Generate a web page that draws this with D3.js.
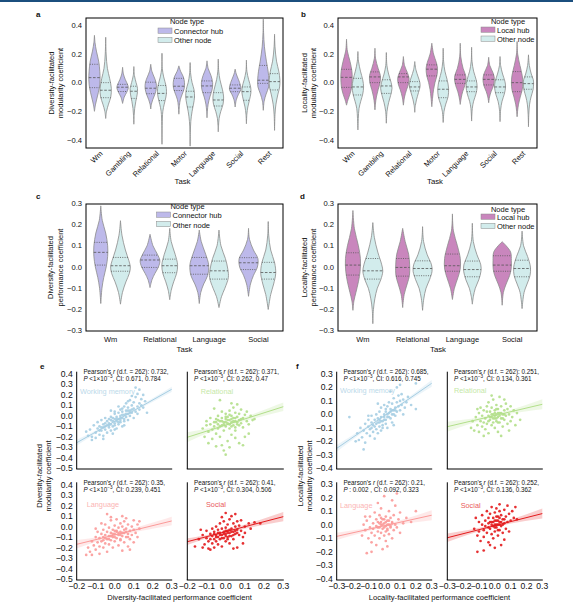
<!DOCTYPE html>
<html><head><meta charset="utf-8">
<script src="https://cdn.jsdelivr.net/npm/d3@7"></script>
<style>body{margin:0;background:#fff}svg{display:block}text{font-family:"Liberation Sans",Arial,sans-serif;fill:#111}</style>
</head><body><svg id="c" width="573" height="604"></svg>
<script>
// ---------------- DATA ----------------
const tasksAB = ["Wm","Gambling","Relational","Motor","Language","Social","Rest"];
const tasksCD = ["Wm","Relational","Language","Social"];
const ticksAB = [-0.4,-0.2,0,0.2,0.4];
const ticksCD = [-0.3,-0.2,-0.1,0,0.1,0.2,0.3];
const ticksEy = [-0.5,-0.4,-0.3,-0.2,-0.1,0,0.1,0.2,0.3,0.4];
const ticksEx = [-0.2,-0.1,0,0.1,0.2,0.3];
const ticksFy = [-0.4,-0.3,-0.2,-0.1,0,0.1,0.2,0.3];
const ticksFx = [-0.3,-0.2,-0.1,0,0.1,0.2,0.3];

// violin profiles: [value, relative half-width]; quartiles: [q3, median, q1]
const aHubProf = [
 [[0.33,0],[0.28,0.1],[0.22,0.35],[0.15,0.75],[0.08,0.95],[0.02,1],[-0.04,0.85],[-0.1,0.5],[-0.15,0.2],[-0.2,0]],
 [[0.107,0],[0.06,0.15],[0.02,0.5],[-0.02,0.95],[-0.04,1],[-0.07,0.7],[-0.1,0.3],[-0.145,0]],
 [[0.128,0],[0.08,0.2],[0.04,0.6],[0.0,0.95],[-0.04,1],[-0.08,0.75],[-0.12,0.35],[-0.15,0.12],[-0.184,0]],
 [[0.117,0],[0.08,0.3],[0.04,0.8],[0.0,1],[-0.04,0.95],[-0.08,0.6],[-0.12,0.25],[-0.16,0.1],[-0.22,0]],
 [[0.152,0],[0.1,0.2],[0.05,0.7],[0.0,1],[-0.05,0.9],[-0.1,0.5],[-0.15,0.2],[-0.2,0.06],[-0.245,0]],
 [[0.094,0],[0.06,0.2],[0.02,0.6],[-0.02,0.95],[-0.05,1],[-0.08,0.6],[-0.12,0.2],[-0.17,0]],
 [[0.443,0],[0.35,0.05],[0.25,0.2],[0.15,0.55],[0.08,0.85],[0.02,1],[-0.03,0.95],[-0.08,0.5],[-0.13,0.15],[-0.193,0]]];
const aHubQ = [[0.128,0.035,-0.035],[-0.012,-0.032,-0.062],[0.003,-0.039,-0.077],[0.03,-0.025,-0.055],[0.012,-0.023,-0.07],[-0.016,-0.039,-0.063],[0.12,0.017,-0.005]];
const aOthProf = [
 [[0.317,0],[0.2,0.08],[0.1,0.3],[0.03,0.7],[-0.04,1],[-0.1,0.9],[-0.15,0.5],[-0.2,0.15],[-0.25,0]],
 [[0.112,0],[0.05,0.1],[0.0,0.4],[-0.04,0.65],[-0.08,0.6],[-0.13,0.35],[-0.18,0.15],[-0.23,0.05],[-0.29,0]],
 [[0.205,0],[0.1,0.05],[0.04,0.3],[-0.02,0.7],[-0.06,0.8],[-0.1,0.7],[-0.15,0.4],[-0.2,0.15],[-0.3,0.04],[-0.43,0]],
 [[0.14,0],[0.06,0.1],[0.0,0.35],[-0.05,0.7],[-0.1,0.78],[-0.15,0.6],[-0.2,0.35],[-0.27,0.12],[-0.35,0.04],[-0.443,0]],
 [[0.164,0],[0.08,0.08],[0.02,0.3],[-0.05,0.75],[-0.1,0.95],[-0.15,0.85],[-0.2,0.45],[-0.25,0.15],[-0.3,0.05],[-0.343,0]],
 [[0.157,0],[0.08,0.08],[0.02,0.4],[-0.03,0.75],[-0.07,0.8],[-0.12,0.55],[-0.17,0.25],[-0.22,0.08],[-0.287,0]],
 [[0.338,0],[0.25,0.08],[0.15,0.35],[0.08,0.75],[0.02,0.95],[-0.03,0.9],[-0.08,0.6],[-0.15,0.25],[-0.22,0.08],[-0.333,0]]];
const aOthQ = [[0.0,-0.053,-0.105],[-0.025,-0.06,-0.11],[-0.02,-0.075,-0.125],[-0.06,-0.1,-0.17],[-0.07,-0.121,-0.163],[-0.03,-0.063,-0.123],[0.063,0.007,-0.051]];

const bHubProf = [
 [[0.303,0],[0.22,0.15],[0.15,0.6],[0.08,0.95],[0.03,1],[-0.03,0.9],[-0.08,0.6],[-0.12,0.25],[-0.157,0]],
 [[0.24,0],[0.17,0.1],[0.1,0.55],[0.05,0.95],[0.0,0.9],[-0.05,0.55],[-0.1,0.25],[-0.15,0.08],[-0.19,0]],
 [[0.182,0],[0.12,0.2],[0.07,0.7],[0.03,1],[-0.01,0.9],[-0.05,0.55],[-0.1,0.2],[-0.157,0]],
 [[0.275,0],[0.2,0.3],[0.14,0.8],[0.1,1],[0.05,0.9],[0.0,0.55],[-0.05,0.3],[-0.1,0.15],[-0.168,0]],
 [[0.275,0],[0.18,0.1],[0.1,0.5],[0.05,0.95],[0.02,1],[-0.02,0.8],[-0.06,0.45],[-0.1,0.2],[-0.152,0]],
 [[0.177,0],[0.12,0.2],[0.07,0.75],[0.03,1],[-0.02,0.85],[-0.06,0.45],[-0.1,0.15],[-0.14,0]],
 [[0.287,0],[0.2,0.1],[0.12,0.5],[0.05,0.9],[0.0,1],[-0.05,0.9],[-0.1,0.55],[-0.15,0.25],[-0.2,0.08],[-0.238,0]]];
const bHubQ = [[0.093,0.037,-0.033],[0.075,0.04,0.0],[0.063,0.04,0.0],[0.124,0.094,0.047],[0.054,0.023,-0.005],[0.054,0.023,-0.016],[0.077,0.0,-0.063]];
const bOthProf = [
 [[0.217,0],[0.15,0.1],[0.08,0.45],[0.02,0.85],[-0.03,1],[-0.08,0.85],[-0.13,0.5],[-0.18,0.2],[-0.25,0.07],[-0.33,0]],
 [[0.21,0],[0.12,0.1],[0.06,0.4],[0.0,0.85],[-0.04,1],[-0.09,0.75],[-0.14,0.4],[-0.2,0.12],[-0.283,0]],
 [[0.147,0],[0.09,0.2],[0.04,0.6],[0.0,0.9],[-0.03,0.92],[-0.07,0.65],[-0.12,0.3],[-0.16,0.1],[-0.207,0]],
 [[0.24,0],[0.15,0.07],[0.08,0.3],[0.02,0.7],[-0.04,0.95],[-0.1,0.85],[-0.15,0.45],[-0.2,0.15],[-0.278,0]],
 [[0.247,0],[0.15,0.07],[0.08,0.35],[0.02,0.8],[-0.03,0.97],[-0.08,0.75],[-0.13,0.35],[-0.18,0.12],[-0.268,0]],
 [[0.182,0],[0.12,0.1],[0.06,0.45],[0.01,0.85],[-0.03,0.97],[-0.08,0.75],[-0.13,0.35],[-0.19,0.1],[-0.272,0]],
 [[0.194,0],[0.12,0.15],[0.06,0.5],[0.02,0.85],[-0.01,0.9],[-0.05,0.8],[-0.1,0.45],[-0.15,0.2],[-0.22,0.06],[-0.308,0]]];
const bOthQ = [[0.03,-0.03,-0.086],[0.02,-0.023,-0.075],[0.007,-0.03,-0.058],[0.012,-0.046,-0.105],[0.012,-0.03,-0.063],[0.02,-0.03,-0.07],[0.04,-0.007,-0.046]];

const cHubProf = [
 [[0.288,0],[0.22,0.15],[0.16,0.5],[0.1,0.7],[0.05,0.7],[0.0,0.55],[-0.05,0.3],[-0.1,0.12],[-0.172,0]],
 [[0.154,0],[0.1,0.3],[0.06,0.75],[0.03,1],[0.0,0.85],[-0.03,0.5],[-0.06,0.2],[-0.097,0]],
 [[0.174,0],[0.12,0.2],[0.06,0.65],[0.01,0.95],[-0.04,0.85],[-0.08,0.45],[-0.12,0.15],[-0.172,0]],
 [[0.182,0],[0.13,0.1],[0.08,0.5],[0.04,0.95],[0.0,0.9],[-0.04,0.5],[-0.08,0.2],[-0.138,0]]];
const cHubQ = [[0.116,0.069,0.009],[0.056,0.033,-0.002],[0.045,0.006,-0.034],[0.044,0.02,-0.012]];
const cOthProf = [
 [[0.218,0],[0.15,0.15],[0.08,0.5],[0.03,0.85],[0.0,1],[-0.03,0.9],[-0.07,0.55],[-0.12,0.2],[-0.175,0]],
 [[0.182,0],[0.12,0.15],[0.06,0.55],[0.01,0.8],[-0.03,0.7],[-0.07,0.4],[-0.11,0.15],[-0.154,0]],
 [[0.174,0],[0.1,0.2],[0.04,0.65],[-0.01,0.9],[-0.05,0.95],[-0.1,0.6],[-0.14,0.25],[-0.191,0]],
 [[0.214,0],[0.15,0.05],[0.08,0.25],[0.02,0.65],[-0.03,0.76],[-0.08,0.55],[-0.13,0.25],[-0.2,0]]];
const cOthQ = [[0.045,0.006,-0.02],[0.037,0.006,-0.027],[0.028,-0.018,-0.057],[0.022,-0.026,-0.057]];

const dHubProf = [
 [[0.266,0],[0.18,0.15],[0.1,0.55],[0.04,0.75],[-0.02,0.72],[-0.07,0.55],[-0.12,0.3],[-0.16,0.1],[-0.204,0]],
 [[0.182,0],[0.12,0.25],[0.06,0.6],[0.01,0.7],[-0.04,0.68],[-0.08,0.45],[-0.13,0.15],[-0.191,0]],
 [[0.25,0],[0.17,0.1],[0.1,0.5],[0.04,0.79],[-0.01,0.78],[-0.05,0.55],[-0.1,0.2],[-0.153,0]],
 [[0.119,0],[0.1,0.4],[0.07,0.85],[0.03,0.92],[-0.01,0.9],[-0.04,0.75],[-0.08,0.4],[-0.12,0.12],[-0.18,0]]];
const dHubQ = [[0.067,0.009,-0.038],[0.04,-0.002,-0.043],[0.061,0.006,-0.02],[0.053,0.009,-0.02]];
const dOthProf = [
 [[0.209,0],[0.14,0.15],[0.07,0.5],[0.01,0.9],[-0.02,1],[-0.06,0.8],[-0.1,0.45],[-0.15,0.2],[-0.2,0.06],[-0.267,0]],
 [[0.19,0],[0.12,0.1],[0.06,0.45],[0.01,0.9],[-0.02,0.95],[-0.06,0.7],[-0.1,0.35],[-0.15,0.12],[-0.204,0]],
 [[0.206,0],[0.12,0.1],[0.06,0.45],[0.01,0.85],[-0.02,0.87],[-0.06,0.65],[-0.1,0.3],[-0.14,0.1],[-0.175,0]],
 [[0.169,0],[0.1,0.15],[0.05,0.55],[0.0,0.84],[-0.04,0.8],[-0.08,0.5],[-0.12,0.2],[-0.196,0]]];
const dOthQ = [[0.04,-0.018,-0.057],[0.029,-0.007,-0.041],[0.028,-0.012,-0.046],[0.032,-0.007,-0.046]];

// scatter points [x, y]
const eWm = [[-0.14,-0.19],[-0.13,-0.13],[-0.12,-0.2],[-0.11,-0.09],[-0.1,-0.16],[-0.1,-0.21],[-0.09,-0.12],[-0.09,-0.06],[-0.08,-0.18],[-0.08,-0.1],[-0.07,-0.14],[-0.07,-0.04],[-0.06,-0.11],[-0.06,-0.19],[-0.05,-0.07],[-0.05,-0.13],[-0.05,-0.02],[-0.04,-0.09],[-0.04,-0.16],[-0.04,-0.05],[-0.03,-0.11],[-0.03,-0.03],[-0.03,-0.07],[-0.02,-0.14],[-0.02,-0.08],[-0.02,-0.01],[-0.01,-0.05],[-0.01,-0.1],[-0.01,-0.17],[0.0,-0.03],[0.0,-0.07],[0.0,0.02],[0.01,-0.12],[0.01,-0.05],[0.01,-0.01],[0.02,-0.08],[0.02,0.03],[0.02,-0.03],[0.03,-0.06],[0.03,0.0],[0.03,0.06],[0.04,-0.02],[0.04,-0.1],[0.04,0.04],[0.05,0.01],[0.05,-0.05],[0.05,0.09],[0.06,-0.01],[0.06,0.05],[0.06,0.12],[0.07,0.02],[0.07,-0.04],[0.07,0.08],[0.08,0.0],[0.08,0.05],[0.08,0.15],[0.09,0.03],[0.09,0.1],[0.1,0.07],[0.1,-0.02],[0.1,0.13],[0.11,0.04],[0.11,0.18],[0.12,0.09],[0.12,0.02],[0.13,0.12],[0.13,0.06],[0.14,0.1],[0.14,0.16],[0.15,0.08],[0.16,0.14],[0.17,0.03],[0.11,0.27],[0.13,0.25],[0.12,0.21],[0.09,0.19],[-0.15,-0.15],[-0.12,-0.23],[-0.06,-0.22],[0.02,0.09],[-0.02,0.05],[0.0,-0.13],[0.05,-0.09],[0.07,0.14],[0.15,0.2],[-0.06,-0.08],[-0.05,-0.1],[-0.03,-0.09],[-0.02,-0.04],[-0.01,-0.02],[0.0,-0.09],[0.01,-0.03],[0.02,-0.06],[0.03,-0.02],[0.04,0.01],[0.05,-0.03],[0.06,0.02],[0.07,0.05],[0.08,0.03],[0.09,0.06],[-0.07,-0.11],[-0.08,-0.14],[0.03,-0.04],[0.0,0.04],[0.04,0.07]];
const eRel = [[-0.12,-0.12],[-0.11,-0.2],[-0.1,-0.05],[-0.09,-0.15],[-0.09,-0.26],[-0.08,-0.08],[-0.08,-0.02],[-0.07,-0.13],[-0.07,-0.22],[-0.06,-0.06],[-0.06,-0.1],[-0.05,-0.03],[-0.05,-0.17],[-0.05,-0.29],[-0.04,-0.08],[-0.04,0.0],[-0.04,-0.12],[-0.03,-0.05],[-0.03,-0.2],[-0.02,-0.09],[-0.02,-0.02],[-0.02,0.04],[-0.01,-0.06],[-0.01,-0.14],[-0.01,-0.33],[0.0,-0.03],[0.0,-0.1],[0.0,0.02],[0.01,-0.07],[0.01,-0.01],[0.01,-0.24],[0.02,-0.04],[0.02,0.05],[0.02,-0.12],[0.03,-0.06],[0.03,0.0],[0.03,-0.18],[0.04,-0.02],[0.04,-0.09],[0.04,0.08],[0.05,-0.05],[0.05,0.03],[0.05,-0.14],[0.06,-0.01],[0.06,-0.08],[0.06,0.11],[0.07,-0.04],[0.07,0.02],[0.07,-0.26],[0.08,-0.07],[0.08,0.06],[0.09,-0.02],[0.09,-0.11],[0.1,0.01],[0.1,-0.2],[0.11,-0.05],[0.11,0.04],[0.12,-0.08],[0.13,0.0],[0.14,-0.04],[0.15,-0.03],[-0.03,0.15],[0.03,0.12],[-0.06,0.07],[0.0,-0.37],[0.09,-0.28],[-0.02,-0.28],[0.12,-0.17],[-0.1,-0.09],[0.05,-0.21],[0.02,-0.3],[-0.02,-0.05],[0.0,-0.06],[0.02,-0.08],[0.03,-0.03],[0.04,-0.05],[0.05,-0.02],[0.01,-0.04],[-0.01,-0.08],[0.06,-0.06],[0.07,-0.09],[-0.03,-0.1],[0.0,-0.01],[0.03,-0.1],[0.08,-0.03],[-0.05,-0.06],[0.05,-0.11],[0.02,0.01],[-0.04,-0.04]];
const eLang = [[-0.15,-0.27],[-0.14,-0.2],[-0.13,-0.24],[-0.12,-0.14],[-0.12,-0.27],[-0.11,-0.18],[-0.1,-0.1],[-0.1,-0.22],[-0.09,-0.15],[-0.09,-0.05],[-0.08,-0.19],[-0.08,-0.11],[-0.08,-0.26],[-0.07,-0.07],[-0.07,-0.14],[-0.06,-0.2],[-0.06,-0.03],[-0.06,-0.1],[-0.05,-0.16],[-0.05,-0.08],[-0.05,0.02],[-0.04,-0.12],[-0.04,-0.05],[-0.04,-0.24],[-0.03,-0.09],[-0.03,-0.01],[-0.03,-0.17],[-0.02,-0.06],[-0.02,0.06],[-0.02,-0.13],[-0.01,-0.1],[-0.01,-0.03],[-0.01,-0.2],[0.0,-0.07],[0.0,0.01],[0.0,-0.14],[0.01,-0.04],[0.01,-0.11],[0.01,0.07],[0.02,-0.08],[0.02,-0.01],[0.02,-0.18],[0.03,-0.05],[0.03,0.03],[0.03,-0.12],[0.04,-0.09],[0.04,0.0],[0.04,-0.23],[0.05,-0.06],[0.05,0.05],[0.05,-0.15],[0.06,-0.02],[0.06,-0.1],[0.06,0.08],[0.07,-0.07],[0.07,0.02],[0.07,-0.19],[0.08,-0.04],[0.08,-0.12],[0.09,0.0],[0.09,-0.08],[0.1,-0.03],[0.1,0.06],[0.1,-0.15],[0.11,-0.06],[0.12,0.02],[0.12,-0.1],[0.13,-0.02],[0.13,0.05],[-0.04,0.12],[-0.02,0.09],[0.04,0.1],[-0.07,0.03],[0.08,-0.22],[-0.1,-0.02],[-0.02,-0.09],[0.0,-0.1],[0.02,-0.06],[0.03,-0.08],[-0.03,-0.12],[0.05,-0.03],[0.01,-0.05],[-0.05,-0.11],[0.04,-0.06],[0.06,-0.05],[-0.01,-0.07],[0.03,-0.13],[0.07,-0.1],[-0.06,-0.13],[0.0,-0.04]];
const eSoc = [[-0.16,-0.19],[-0.14,-0.12],[-0.12,-0.08],[-0.11,-0.17],[-0.1,-0.11],[-0.1,-0.04],[-0.09,-0.14],[-0.09,-0.21],[-0.08,-0.07],[-0.08,-0.12],[-0.07,-0.02],[-0.07,-0.16],[-0.07,-0.09],[-0.06,-0.05],[-0.06,-0.12],[-0.06,-0.2],[-0.05,-0.08],[-0.05,0.0],[-0.05,-0.14],[-0.04,-0.03],[-0.04,-0.1],[-0.04,-0.17],[-0.03,-0.06],[-0.03,0.03],[-0.03,-0.12],[-0.02,-0.08],[-0.02,-0.02],[-0.02,-0.19],[-0.01,-0.05],[-0.01,-0.11],[-0.01,0.05],[0.0,-0.07],[0.0,-0.01],[0.0,-0.14],[0.01,-0.04],[0.01,0.02],[0.01,-0.1],[0.02,-0.06],[0.02,0.07],[0.02,-0.16],[0.03,-0.02],[0.03,-0.09],[0.03,0.1],[0.04,-0.05],[0.04,0.03],[0.04,-0.12],[0.05,0.0],[0.05,-0.07],[0.05,0.12],[0.06,-0.03],[0.06,0.05],[0.06,-0.2],[0.07,-0.08],[0.07,0.01],[0.08,-0.04],[0.08,0.06],[0.09,-0.1],[0.1,0.0],[0.1,-0.06],[0.12,0.03],[0.13,-0.02],[0.15,0.04],[0.18,0.03],[-0.12,-0.2],[-0.13,-0.03],[0.0,0.13],[0.04,-0.21],[-0.08,-0.22],[0.09,-0.16],[-0.02,0.09],[-0.03,-0.08],[-0.01,-0.07],[0.0,-0.04],[0.01,-0.06],[0.02,-0.09],[0.03,-0.05],[-0.02,-0.11],[-0.04,-0.06],[0.04,-0.08],[0.05,-0.04],[-0.05,-0.1],[0.0,-0.09],[0.02,-0.03],[-0.06,-0.07],[0.06,-0.06],[0.01,-0.12]];
const fWm = [[-0.22,-0.02],[-0.18,-0.2],[-0.17,-0.14],[-0.16,-0.19],[-0.15,-0.1],[-0.14,-0.17],[-0.13,-0.26],[-0.13,-0.12],[-0.12,-0.07],[-0.12,-0.21],[-0.11,-0.14],[-0.1,-0.09],[-0.1,-0.04],[-0.09,-0.16],[-0.09,-0.11],[-0.08,-0.06],[-0.08,-0.01],[-0.07,-0.13],[-0.07,-0.08],[-0.06,-0.04],[-0.06,-0.18],[-0.05,-0.07],[-0.05,0.0],[-0.05,-0.11],[-0.04,-0.03],[-0.04,-0.14],[-0.03,-0.06],[-0.03,0.02],[-0.03,-0.09],[-0.02,-0.02],[-0.02,-0.12],[-0.02,0.05],[-0.01,-0.05],[-0.01,-0.08],[0.0,0.0],[0.0,-0.04],[0.0,0.07],[0.01,-0.07],[0.01,0.02],[0.02,-0.02],[0.02,0.06],[0.02,-0.1],[0.03,0.01],[0.03,0.09],[0.04,-0.03],[0.04,0.04],[0.05,0.0],[0.05,0.08],[0.05,-0.06],[0.06,0.03],[0.06,0.12],[0.07,0.05],[0.07,-0.01],[0.08,0.09],[0.08,0.02],[0.09,0.06],[0.09,0.14],[0.1,0.03],[0.1,0.1],[0.11,0.07],[0.11,0.15],[0.12,0.0],[0.12,0.11],[0.13,0.05],[0.14,0.09],[0.15,0.13],[0.17,0.07],[0.2,0.23],[0.2,0.04],[0.08,0.2],[0.04,0.17],[0.1,0.22],[-0.04,0.08],[-0.1,-0.01],[0.06,-0.08],[-0.04,-0.06],[-0.02,-0.05],[0.0,-0.02],[0.01,-0.04],[0.02,0.0],[0.03,-0.02],[0.04,0.02],[0.05,0.03],[0.06,0.0],[-0.06,-0.09],[-0.03,-0.04],[0.07,0.03],[-0.08,-0.1],[0.01,0.04],[-0.01,-0.1]];
const fRel = [[-0.15,-0.1],[-0.14,-0.05],[-0.13,-0.12],[-0.12,-0.02],[-0.11,-0.08],[-0.1,0.01],[-0.1,-0.13],[-0.09,-0.05],[-0.09,0.05],[-0.08,-0.09],[-0.08,-0.01],[-0.07,-0.06],[-0.07,0.03],[-0.06,-0.11],[-0.06,-0.03],[-0.05,0.06],[-0.05,-0.07],[-0.04,-0.01],[-0.04,0.09],[-0.04,-0.14],[-0.03,-0.04],[-0.03,0.02],[-0.02,-0.08],[-0.02,0.05],[-0.02,-0.02],[-0.01,0.0],[-0.01,-0.06],[-0.01,0.11],[0.0,-0.03],[0.0,0.03],[0.0,-0.1],[0.01,0.07],[0.01,-0.05],[0.01,0.0],[0.02,-0.02],[0.02,0.04],[0.02,-0.13],[0.03,-0.06],[0.03,0.01],[0.03,0.13],[0.04,-0.03],[0.04,0.06],[0.05,0.0],[0.05,-0.09],[0.06,0.03],[0.06,-0.04],[0.07,0.08],[0.07,-0.01],[0.08,-0.07],[0.08,0.04],[0.09,0.0],[0.1,-0.05],[0.1,0.06],[0.11,-0.02],[0.12,0.03],[0.13,-0.08],[0.14,0.01],[0.16,-0.04],[-0.02,0.14],[0.06,0.11],[-0.07,-0.16],[0.04,-0.16],[0.09,-0.12],[-0.11,0.04],[-0.03,-0.02],[-0.01,-0.03],[0.0,-0.01],[0.01,-0.03],[0.02,0.01],[0.03,-0.01],[-0.02,0.0],[0.04,0.01],[0.0,0.01],[-0.04,-0.05],[0.05,-0.03],[0.02,-0.06],[-0.05,0.02],[0.06,0.0],[0.01,0.04]];
const fLang = [[-0.14,-0.08],[-0.13,0.0],[-0.12,-0.04],[-0.11,-0.21],[-0.11,0.03],[-0.1,-0.1],[-0.09,-0.02],[-0.09,0.06],[-0.08,-0.06],[-0.08,-0.13],[-0.07,0.01],[-0.07,-0.03],[-0.06,0.09],[-0.06,-0.08],[-0.05,-0.01],[-0.05,0.04],[-0.05,-0.15],[-0.04,-0.05],[-0.04,0.02],[-0.03,0.07],[-0.03,-0.1],[-0.03,-0.02],[-0.02,0.0],[-0.02,0.12],[-0.02,-0.06],[-0.01,0.04],[-0.01,-0.03],[-0.01,-0.18],[0.0,0.01],[0.0,0.21],[0.0,-0.08],[0.01,-0.01],[0.01,0.06],[0.01,-0.12],[0.02,0.03],[0.02,-0.04],[0.03,0.0],[0.03,0.1],[0.03,-0.07],[0.04,0.05],[0.04,-0.02],[0.05,0.02],[0.05,-0.1],[0.06,0.07],[0.06,-0.04],[0.07,0.0],[0.07,0.14],[0.08,0.23],[0.08,-0.02],[0.09,0.04],[0.1,-0.06],[0.1,0.09],[0.12,0.01],[0.14,0.05],[0.2,0.1],[0.17,0.02],[-0.04,0.16],[0.05,0.18],[-0.08,-0.2],[0.02,-0.16],[-0.12,0.06],[-0.02,0.02],[0.0,-0.02],[0.01,0.02],[0.02,0.0],[-0.01,0.0],[0.03,0.03],[-0.03,0.01],[0.04,-0.01],[0.0,0.04],[0.02,-0.03],[-0.04,-0.02],[0.05,0.01],[0.01,-0.05],[-0.02,0.05]];
const fSoc = [[-0.13,-0.03],[-0.12,0.05],[-0.11,-0.08],[-0.1,0.02],[-0.1,-0.05],[-0.09,-0.12],[-0.08,0.0],[-0.08,0.07],[-0.07,-0.04],[-0.07,-0.09],[-0.06,0.03],[-0.06,-0.01],[-0.05,0.1],[-0.05,-0.06],[-0.04,0.01],[-0.04,-0.13],[-0.04,0.05],[-0.03,-0.03],[-0.03,0.08],[-0.02,-0.07],[-0.02,0.02],[-0.02,0.13],[-0.01,-0.01],[-0.01,0.05],[-0.01,-0.1],[0.0,0.0],[0.0,0.09],[0.0,-0.05],[0.01,0.03],[0.01,-0.02],[0.01,0.12],[0.02,-0.08],[0.02,0.06],[0.02,0.0],[0.03,-0.04],[0.03,0.1],[0.03,0.02],[0.04,-0.01],[0.04,0.07],[0.04,-0.15],[0.05,0.04],[0.05,-0.06],[0.06,0.01],[0.06,0.11],[0.07,-0.03],[0.07,0.06],[0.08,0.02],[0.08,0.14],[0.09,-0.05],[0.09,0.08],[0.1,0.03],[0.11,0.1],[0.12,0.05],[0.13,0.13],[0.14,0.04],[-0.11,-0.2],[-0.07,-0.19],[0.0,-0.17],[0.06,-0.11],[-0.03,-0.15],[0.03,0.15],[-0.01,0.02],[0.0,0.03],[0.01,0.0],[0.02,0.03],[0.03,0.0],[-0.02,0.0],[0.04,0.02],[0.0,-0.02],[0.05,0.0],[-0.03,0.02],[0.01,0.06],[0.02,-0.04],[-0.04,-0.02],[0.06,0.04],[0.03,0.05]];

// regression lines: y at left and right end of x domain; CI half-width at [left, 0, right]
const eLines = [[-0.256,0.254],[-0.204,0.088],[-0.169,0.054],[-0.144,0.095]];
const eBands = [[0.028,0.008,0.025],[0.048,0.015,0.04],[0.04,0.014,0.04],[0.032,0.012,0.045]];
const fLines = [[-0.252,0.231],[-0.091,0.075],[-0.086,0.07],[-0.096,0.082]];
const fBands = [[0.025,0.008,0.025],[0.037,0.01,0.037],[0.027,0.01,0.037],[0.031,0.01,0.037]];
const scatterNames = ["Working memory","Relational","Language","Social"];
const eStats = [["0.732,","<1×10","−3",", CI: 0.671, 0.784"],["0.371,","<1×10","−3",", CI: 0.262, 0.47"],["0.35,","<1×10","−3",", CI: 0.239, 0.451"],["0.41,","<1×10","−3",", CI: 0.304, 0.506"]];
const fStats = [["0.685,","<1×10","−3",", CI: 0.616, 0.745"],["0.251,","<1×10","−3",", CI: 0.134, 0.361"],["0.21,",": 0.002","",", CI: 0.092, 0.323"],["0.252,","<1×10","−3",", CI: 0.136, 0.362"]];

// ---------------- STYLE ----------------
const COL = {hub:"#bdb9ea", local:"#c986bd", other:"#d2ecec", edge:"#8a8a8a"};
const SC = ["#a6cee3","#b2df8a","#fb9a99","#e31a1c"];
const fmt = d => d3.format(".1f")(d).replace("-","−");

const svg = d3.select("#c");
svg.append("rect").attr("x",0).attr("y",0).attr("width",573).attr("height",2).attr("fill","#1b4f7e");

function violin(g, cx, half, y, prof, q, fill){
  const cur = d3.curveCatmullRom.alpha(0.5);
  const area = d3.area().y(d=>y(d[0])).x0(d=>cx-d[1]*half).x1(d=>cx+d[1]*half).curve(cur);
  g.append("path").attr("d",area(prof)).attr("fill",fill).attr("stroke",COL.edge).attr("stroke-width",0.8);
  const edge = d3.line().x(d=>cx+d[1]*half).y(d=>y(d[0])).curve(cur);
  const tmp = g.append("path").attr("d",edge(prof)).attr("fill","none");
  const node = tmp.node(), L = node.getTotalLength();
  const s = d3.range(0,401).map(i=>node.getPointAtLength(L*i/400));
  tmp.remove();
  q.forEach((qv,i)=>{
    const yy = y(qv);
    let best=s[0], bd=1e9;
    s.forEach(p=>{const dd=Math.abs(p.y-yy); if(dd<bd){bd=dd;best=p;}});
    const hw = Math.max(0,best.x-cx);
    g.append("line").attr("x1",cx-hw).attr("x2",cx+hw).attr("y1",yy).attr("y2",yy)
      .attr("stroke","#555").attr("stroke-width",0.8)
      .attr("stroke-dasharray", i===1 ? "2.6,1.6" : "1,1.3");
  });
}

function legend(g, tx, ty, px, hubLabel, hubFill, rows){
  g.append("text").attr("x",tx).attr("y",ty).attr("text-anchor","middle").attr("font-size",7.5).text("Node type");
  [[hubLabel,hubFill],["Other node",COL.other]].forEach((r,i)=>{
    g.append("rect").attr("x",px).attr("y",rows[i]-5.3).attr("width",14).attr("height",5.3)
      .attr("fill",r[1]).attr("stroke",COL.edge).attr("stroke-width",0.5);
    g.append("text").attr("x",px+16).attr("y",rows[i]+0.8).attr("font-size",7.5).text(r[0]);
  });
}

function violinPanel(o){
  const g = svg.append("g");
  const x = d3.scaleBand().domain(o.tasks).range([o.x0,o.x1]);
  const y = d3.scaleLinear().domain(o.ydom).range(o.yrange);
  const clipId = "clip"+o.letter;
  g.append("clipPath").attr("id",clipId).append("rect").attr("x",o.x0).attr("y",o.y0).attr("width",o.x1-o.x0).attr("height",o.y1-o.y0);
  const vg = g.append("g").attr("clip-path",`url(#${clipId})`);
  const bw = x.bandwidth(), half = 0.2*bw;
  o.tasks.forEach((t,i)=>{
    const c = x(t)+bw/2;
    violin(vg, c-0.2*bw, half, y, o.hubProf[i], o.hubQ[i], o.hubFill);
    violin(vg, c+0.2*bw, half, y, o.othProf[i], o.othQ[i], COL.other);
  });
  g.append("rect").attr("x",o.x0).attr("y",o.y0).attr("width",o.x1-o.x0).attr("height",o.y1-o.y0)
    .attr("fill","none").attr("stroke","#000").attr("stroke-width",1);
  o.ticks.forEach(t=>{
    g.append("text").attr("x",o.x0-4).attr("y",y(t)+2.7).attr("text-anchor","end").attr("font-size",7.6).text(fmt(t));
  });
  o.tasks.forEach(t=>{
    const c = x(t)+bw/2;
    if(o.rot){
      g.append("text").attr("transform",`translate(${c+3},${o.y1+6}) rotate(-45)`).attr("text-anchor","end").attr("font-size",7.5).text(t);
    } else {
      g.append("text").attr("x",c).attr("y",o.y1+10.5).attr("text-anchor","middle").attr("font-size",7.5).text(t);
    }
  });
  g.append("text").attr("x",o.taskX).attr("y",o.taskY).attr("text-anchor","middle").attr("font-size",7.8).text("Task");
  o.ylab.forEach((l,i)=>{
    g.append("text").attr("transform",`translate(${o.ylabX[i]},${(o.y0+o.y1)/2}) rotate(-90)`).attr("text-anchor","middle").attr("font-size",7.5).text(l);
  });
  g.append("text").attr("x",o.lx).attr("y",o.ly).attr("font-weight","bold").attr("font-size",8).text(o.letter);
  legend(g, o.leg[0], o.leg[1], o.leg[2], o.hubLabel, o.hubFill, o.leg[3]);
}

violinPanel({letter:"a",tasks:tasksAB,x0:86,x1:283,y0:18,y1:148,ydom:[-0.456,0.451],yrange:[148,18],ticks:ticksAB,
  hubProf:aHubProf,hubQ:aHubQ,othProf:aOthProf,othQ:aOthQ,hubFill:COL.hub,hubLabel:"Connector hub",rot:true,
  taskX:182.5,taskY:184,ylab:["Diversity-facilitated","modularity coefficient"],ylabX:[53.5,62.5],lx:36,ly:17,
  leg:[187,24,158,[33.3,42.6]]});
violinPanel({letter:"b",tasks:tasksAB,x0:338,x1:537,y0:18,y1:148,ydom:[-0.456,0.451],yrange:[148,18],ticks:ticksAB,
  hubProf:bHubProf,hubQ:bHubQ,othProf:bOthProf,othQ:bOthQ,hubFill:COL.local,hubLabel:"Local hub",rot:true,
  taskX:435,taskY:184,ylab:["Locality-facilitated","modularity coefficient"],ylabX:[307,315.5],lx:301,ly:17,
  leg:[508,23.5,481,[32.3,41.3]]});
violinPanel({letter:"c",tasks:tasksCD,x0:86,x1:283,y0:204,y1:331,ydom:[-0.3,0.3],yrange:[330.7,203.3],ticks:ticksCD,
  hubProf:cHubProf,hubQ:cHubQ,othProf:cOthProf,othQ:cOthQ,hubFill:COL.hub,hubLabel:"Connector hub",rot:false,
  taskX:184.5,taskY:351.5,ylab:["Diversity-facilitated","performance coefficient"],ylabX:[53,62.5],lx:36,ly:199,
  leg:[187.5,209,156.5,[217.3,226.7]]});
violinPanel({letter:"d",tasks:tasksCD,x0:338,x1:537,y0:204,y1:331,ydom:[-0.3,0.3],yrange:[330.7,203.3],ticks:ticksCD,
  hubProf:dHubProf,hubQ:dHubQ,othProf:dOthProf,othQ:dOthQ,hubFill:COL.local,hubLabel:"Local hub",rot:false,
  taskX:438,taskY:351.5,ylab:["Locality-facilitated","performance coefficient"],ylabX:[306.5,315.5],lx:300,ly:199,
  leg:[508,211.5,481,[219.3,228.6]]});

// ---------------- SCATTER ----------------
function scatter(o){
  const g = svg.append("g");
  const x = d3.scaleLinear().domain(o.xdom).range([o.x0,o.x1]);
  const y = d3.scaleLinear().domain(o.ydom).range(o.yr);
  const col = SC[o.k];
  const xm = [o.xdom[0],0,o.xdom[1]];
  const ym = [o.line[0], o.line[0]+(o.line[1]-o.line[0])*(0-o.xdom[0])/(o.xdom[1]-o.xdom[0]), o.line[1]];
  const band = xm.map((xv,i)=>[xv, ym[i]-o.band[i], ym[i]+o.band[i]]);
  g.append("path").attr("d",d3.area().x(d=>x(d[0])).y0(d=>y(d[1])).y1(d=>y(d[2])).curve(d3.curveNatural)(band))
    .attr("fill",col).attr("opacity",0.22);
  g.selectAll("circle.p").data(o.pts).join("circle").attr("cx",d=>x(d[0])).attr("cy",d=>y(d[1])).attr("r",1.35)
    .attr("fill",col).attr("opacity",0.9);
  g.append("line").attr("x1",x(o.xdom[0])).attr("x2",x(o.xdom[1])).attr("y1",y(o.line[0])).attr("y2",y(o.line[1]))
    .attr("stroke",col).attr("stroke-width",1);
  // spines
  g.append("line").attr("x1",o.x0).attr("x2",o.x0).attr("y1",o.spineTop).attr("y2",o.spineBot).attr("stroke","#000").attr("stroke-width",1);
  g.append("line").attr("x1",o.x0-0.5).attr("x2",o.x1+0.5).attr("y1",o.spineBot).attr("y2",o.spineBot).attr("stroke","#000").attr("stroke-width",1);
  if(o.yt){ o.yt.forEach(t=>g.append("text").attr("x",o.x0-4).attr("y",y(t)+3).attr("text-anchor","end").attr("font-size",8.6).text(fmt(t))); }
  if(o.xt){ o.xt.forEach(t=>g.append("text").attr("x",x(t)).attr("y",o.spineBot+8.5).attr("text-anchor","middle").attr("font-size",8.6).text(fmt(t))); }
  // stats
  const t1 = g.append("text").attr("x",o.x0+6.7).attr("y",o.ann).attr("font-size",6.3);
  t1.append("tspan").text("Pearson's ");
  t1.append("tspan").attr("font-style","italic").text("r");
  t1.append("tspan").text(" (d.f. = 262): "+o.st[0]);
  const t2 = g.append("text").attr("x",o.x0+6.7).attr("y",o.ann+7).attr("font-size",6.3);
  t2.append("tspan").attr("font-style","italic").text("P");
  t2.append("tspan").text(" "+o.st[1]);
  if(o.st[2]){ t2.append("tspan").attr("dy",-2.6).attr("font-size",4.6).text(o.st[2]); t2.append("tspan").attr("dy",2.6).text(o.st[3]); }
  else t2.append("tspan").text(" "+o.st[3]);
  g.append("text").attr("x",o.x0+o.nameDx).attr("y",o.nameY).attr("font-size",7.3).attr("fill",col).attr("opacity",0.75).text(scatterNames[o.k]).style("fill",col);
}

const ePts=[eWm,eRel,eLang,eSoc], fPts=[fWm,fRel,fLang,fSoc];
const eX=[[76.7,171.7],[187.3,283.3]], fX=[[336.7,431.7],[447.3,542.3]];
const rowsE=[{yr:[468.3,374],top:371.7,bot:469,ann:374,name:394},{yr:[579,484.7],top:482.3,bot:580,ann:485,name:507.3}];
const rowsF=[{yr:[468.3,374],top:371.7,bot:469,ann:374,name:393},{yr:[579,484],top:482.3,bot:580,ann:485,name:507.5}];
[0,1,2,3].forEach(k=>{
  const r=Math.floor(k/2), c=k%2;
  scatter({k,pts:ePts[k],xdom:[-0.2,0.3],ydom:[-0.5,0.4],x0:eX[c][0],x1:eX[c][1],yr:rowsE[r].yr,spineTop:rowsE[r].top,spineBot:rowsE[r].bot,
    line:eLines[k],band:eBands[k],yt:c===0?ticksEy:null,xt:r===1?ticksEx:null,ann:rowsE[r].ann,st:eStats[k],
    nameDx:[3.3,13.4,10,18.7][k],nameY:rowsE[r].name});
  scatter({k,pts:fPts[k],xdom:[-0.3,0.3],ydom:[-0.4,0.3],x0:fX[c][0],x1:fX[c][1],yr:rowsF[r].yr,spineTop:rowsF[r].top,spineBot:rowsF[r].bot,
    line:fLines[k],band:fBands[k],yt:c===0?ticksFy:null,xt:r===1?ticksFx:null,ann:rowsF[r].ann,st:fStats[k],
    nameDx:[3.3,6.7,3.3,13.4][k],nameY:rowsF[r].name});
});
svg.append("text").attr("x",40).attr("y",369).attr("font-weight","bold").attr("font-size",8).text("e");
svg.append("text").attr("x",296).attr("y",369).attr("font-weight","bold").attr("font-size",8).text("f");
svg.append("text").attr("x",179.5).attr("y",600).attr("text-anchor","middle").attr("font-size",7.6).text("Diversity-facilitated performance coefficient");
svg.append("text").attr("x",439.5).attr("y",600).attr("text-anchor","middle").attr("font-size",7.6).text("Locality-facilitated performance coefficient");
[["Diversity-facilitated",41.5],["modularity coefficient",50.5]].forEach(d=>
  svg.append("text").attr("transform",`translate(${d[1]},476) rotate(-90)`).attr("text-anchor","middle").attr("font-size",7.6).text(d[0]));
[["Locality-facilitated",302.5],["modularity coefficient",311.5]].forEach(d=>
  svg.append("text").attr("transform",`translate(${d[1]},476) rotate(-90)`).attr("text-anchor","middle").attr("font-size",7.6).text(d[0]));
</script></body></html>
